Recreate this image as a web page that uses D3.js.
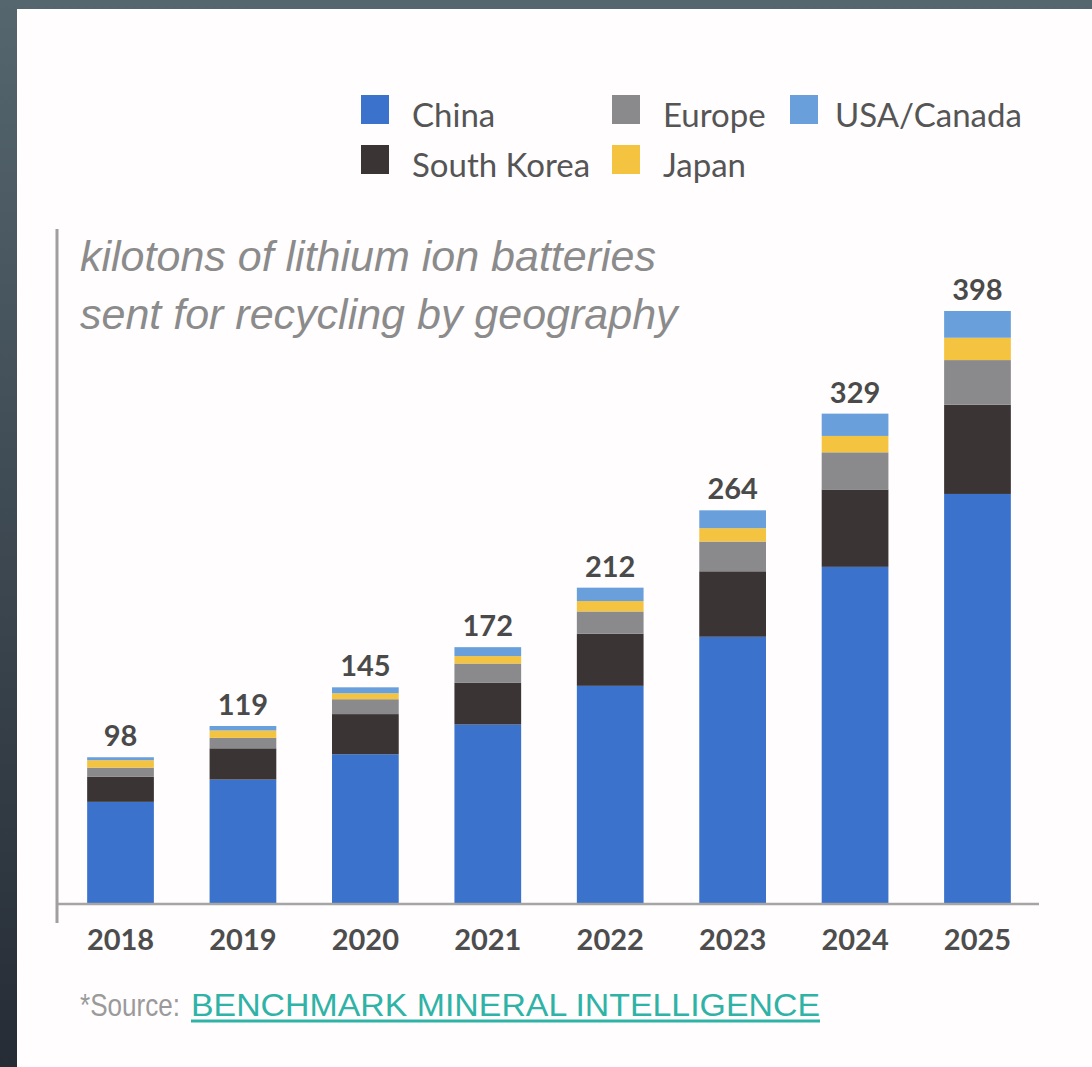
<!DOCTYPE html>
<html>
<head>
<meta charset="utf-8">
<script src="https://cdn.jsdelivr.net/npm/d3@7"></script>
<style>
  body { margin: 0; padding: 0; }
</style>
</head>
<body>
<script>
// Width and height
var w = 1092;
var h = 1067;

var years = ["2018", "2019", "2020", "2021", "2022", "2023", "2024", "2025"];
var china = [68, 83, 100, 120, 146, 179, 226, 275];
var southKorea = [17, 21, 27, 28, 35, 44, 52, 60];
var europe = [6, 7, 10, 13, 15, 20, 25, 30];
var japan = [5, 5, 4, 5, 7, 9, 11, 15];
var usaCanada = [2, 3, 4, 6, 9, 12, 15, 18];
var totals = [98, 119, 145, 172, 212, 264, 329, 398];

var seriesNames = ["China", "South Korea", "Europe", "Japan", "USA/Canada"];
var seriesValues = [china, southKorea, europe, japan, usaCanada];
var colors = ["#3a72cc", "#3a3434", "#8a898c", "#f4c340", "#69a0dc"];

// build rows for the stack
var rows = years.map(function (y, i) {
  var r = { year: y, total: totals[i] };
  seriesNames.forEach(function (s, j) {
    r[s] = seriesValues[j][i];
  });
  return r;
});

var stacked = d3.stack().keys(seriesNames)(rows);

var svg = d3.select("body").append("svg").attr("width", w).attr("height", h);

// background
var defs = svg.append("defs");
var grad = defs
  .append("linearGradient")
  .attr("id", "bg")
  .attr("x1", 0)
  .attr("y1", 0)
  .attr("x2", 0)
  .attr("y2", 1);
grad.append("stop").attr("offset", "0%").attr("stop-color", "#55666f");
grad.append("stop").attr("offset", "100%").attr("stop-color", "#262c35");
svg.append("rect").attr("width", w).attr("height", h).attr("fill", "url(#bg)");

// white panel
svg
  .append("rect")
  .attr("x", 17)
  .attr("y", 9)
  .attr("width", w - 17)
  .attr("height", h - 9)
  .attr("fill", "#fffdfe");

var baseY = 903;
var xScale = d3
  .scaleBand()
  .domain(years)
  .range([59, 1039])
  .paddingInner(0.455)
  .paddingOuter(0.23);

var yScale = d3
  .scaleLinear()
  .domain([0, 398])
  .range([baseY, 311]);

// bars
svg
  .selectAll("g.layer")
  .data(stacked)
  .enter()
  .append("g")
  .attr("class", "layer")
  .attr("fill", function (d, i) {
    return colors[i];
  })
  .selectAll("rect")
  .data(function (d) {
    return d;
  })
  .enter()
  .append("rect")
  .attr("x", function (d) {
    return xScale(d.data.year);
  })
  .attr("y", function (d) {
    return yScale(d[1]);
  })
  .attr("width", xScale.bandwidth())
  .attr("height", function (d) {
    return yScale(d[0]) - yScale(d[1]);
  });

// axes lines
svg
  .append("line")
  .attr("x1", 57)
  .attr("x2", 1039)
  .attr("y1", baseY + 1)
  .attr("y2", baseY + 1)
  .attr("stroke", "#a5a5a5")
  .attr("stroke-width", 2.5);
svg
  .append("line")
  .attr("x1", 57)
  .attr("x2", 57)
  .attr("y1", 229)
  .attr("y2", 923)
  .attr("stroke", "#a0a0a0")
  .attr("stroke-width", 3);

// x labels
var xAxis = d3.axisBottom(xScale).tickSize(0).tickPadding(0);
var gx = svg
  .append("g")
  .attr("transform", "translate(0," + (baseY + 47) + ")")
  .call(xAxis);
gx.select(".domain").remove();
gx.selectAll("text")
  .attr("dy", 0)
  .attr("font-family", "Lato, 'Open Sans', sans-serif")
  .attr("font-size", "29px")
  .attr("font-weight", "bold")
  .attr("fill", "#4d4d4d");

// totals on top
svg
  .selectAll("text.total")
  .data(rows)
  .enter()
  .append("text")
  .attr("class", "total")
  .text(function (d) {
    return d.total;
  })
  .attr("text-anchor", "middle")
  .attr("x", function (d) {
    return xScale(d.year) + xScale.bandwidth() / 2;
  })
  .attr("y", function (d) {
    return yScale(d.total) - 11;
  })
  .attr("font-family", "Lato, 'Open Sans', sans-serif")
  .attr("font-size", "29px")
  .attr("font-weight", "bold")
  .attr("fill", "#4a4a4a");

// title
svg
  .append("text")
  .attr("x", 80)
  .attr("y", 271)
  .attr("font-family", "'Liberation Sans', Arial, sans-serif")
  .attr("font-style", "italic")
  .attr("font-size", "43px")
  .attr("fill", "#8b8b8b")
  .text("kilotons of lithium ion batteries");
svg
  .append("text")
  .attr("x", 80)
  .attr("y", 329)
  .attr("font-family", "'Liberation Sans', Arial, sans-serif")
  .attr("font-style", "italic")
  .attr("font-size", "43px")
  .attr("fill", "#8b8b8b")
  .text("sent for recycling by geography");

// legend
var legendPos = [
  { x: 361, y: 95 },
  { x: 361, y: 145 },
  { x: 612, y: 95 },
  { x: 612, y: 145 },
  { x: 790, y: 95 }
];
var legend = svg
  .selectAll("g.legend")
  .data(seriesNames)
  .enter()
  .append("g")
  .attr("class", "legend")
  .attr("transform", function (d, i) {
    return "translate(" + legendPos[i].x + "," + legendPos[i].y + ")";
  });
legend
  .append("rect")
  .attr("width", 28)
  .attr("height", 29)
  .attr("fill", function (d, i) {
    return colors[i];
  });
legend
  .append("text")
  .attr("x", function (d, i) {
    return i == 4 ? 45 : 51;
  })
  .attr("y", 32)
  .attr("font-family", "Lato, 'Open Sans', sans-serif")
  .attr("font-size", "33px")
  .attr("fill", "#555")
  .text(function (d) {
    return d;
  });

// source
svg
  .append("text")
  .attr("x", 80)
  .attr("y", 1016)
  .attr("font-family", "'Liberation Sans Narrow', 'Liberation Sans', Arial, sans-serif")
  .attr("font-size", "32px")
  .attr("fill", "#9a9a9a")
  .attr("textLength", 100)
  .attr("lengthAdjust", "spacingAndGlyphs")
  .text("*Source:");
svg
  .append("text")
  .attr("x", 191)
  .attr("y", 1016)
  .attr("font-family", "'Liberation Sans Narrow', 'Liberation Sans', Arial, sans-serif")
  .attr("font-size", "32px")
  .attr("fill", "#2fb3a6")
  .attr("textLength", 629)
  .attr("lengthAdjust", "spacingAndGlyphs")
  .text("BENCHMARK MINERAL INTELLIGENCE");
svg
  .append("line")
  .attr("x1", 191)
  .attr("x2", 820)
  .attr("y1", 1021)
  .attr("y2", 1021)
  .attr("stroke", "#2fb3a6")
  .attr("stroke-width", 3);
</script>
</body>
</html>
